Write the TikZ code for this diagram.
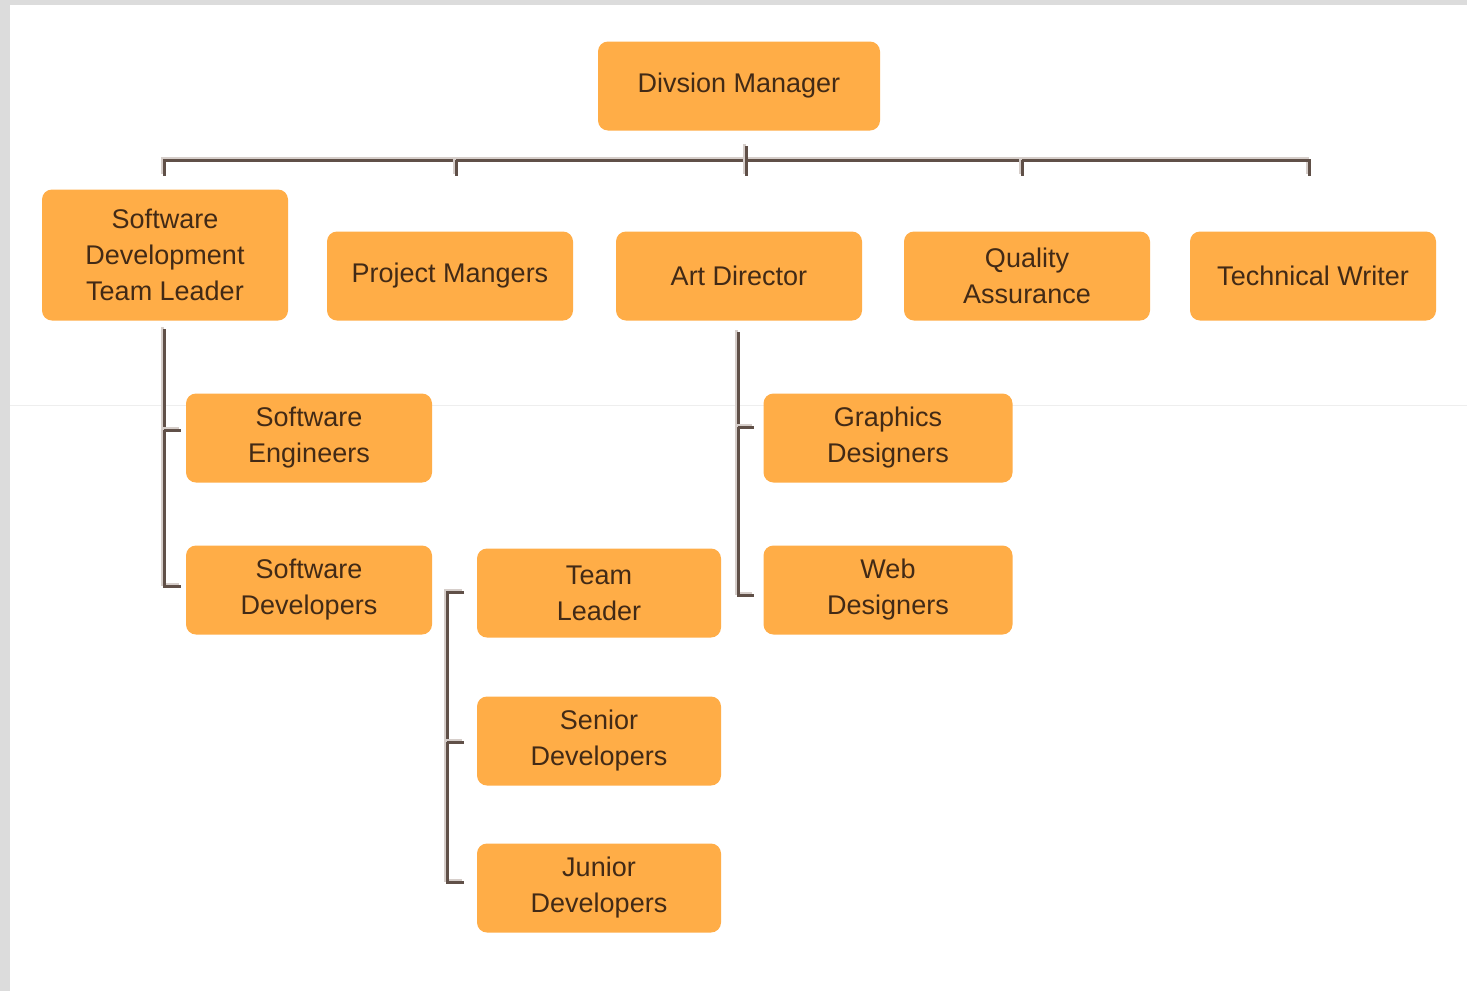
\documentclass[tikz,border=0pt]{standalone}
\usepackage{fontspec}
\setmainfont{Liberation Sans}
\usetikzlibrary{calc}

\definecolor{boxfill}{RGB}{255,173,71}
\definecolor{ink}{RGB}{66,42,22}
\definecolor{wirecol}{RGB}{96,80,72}
\definecolor{wireshade}{RGB}{214,206,202}
\definecolor{framecol}{RGB}{220,220,220}
\definecolor{seam}{RGB}{238,238,238}

% a connector: light shade offset up-left, dark line on top
\newcommand\linkpath[1]{%
  \draw[wireshade, line width=1.5pt, transform canvas={shift={(-1pt,1pt)}}] #1;
  \draw[wirecol, line width=1.5pt] #1;}

\begin{document}
\begin{tikzpicture}[x=0.5pt,y=-0.5pt,
  unit/.style={fill=boxfill, rounded corners=5pt, text=ink, align=center,
    font=\fontsize{13.5}{18}\selectfont, inner sep=0pt,
    minimum width=123pt, minimum height=44.5pt},
]
\useasboundingbox (0,0) rectangle (1467,991);
% page frame
\fill[framecol] (0,0) rectangle (1467,991);
\fill[white] (10,5) rectangle (1467,991);
\draw[seam, line width=0.5pt] (10,405) -- (1467,405);

% boxes
\node[unit, minimum width=141pt] (dm) at (739,86) {Divsion Manager};
\node[unit, minimum height=65.5pt] (sdtl) at (165,255) {Software\\Development\\Team Leader};
\node[unit] (pm) at (450,276) {Project Mangers};
\node[unit] (ad) at (739,276) {Art Director};
\node[unit] (qa) at (1027,276) {Quality\\Assurance};
\node[unit] (tw) at (1313,276) {Technical Writer};

\node[unit] (se) at (309,438) {Software\\Engineers};
\node[unit] (sd) at (309,590) {Software\\Developers};

\node[unit, minimum width=122pt] (tl) at (599,593) {Team\\Leader};
\node[unit, minimum width=122pt] (sr) at (599,741) {Senior\\Developers};
\node[unit, minimum width=122pt] (jr) at (599,888) {Junior\\Developers};

\node[unit, minimum width=124.5pt] (gd) at (888,438) {Graphics\\Designers};
\node[unit, minimum width=124.5pt] (wd) at (888,590) {Web\\Designers};

% top bus
\coordinate (busL) at (164,160);
\coordinate (busR) at (1309,160);
\coordinate (busTop) at (746,146);
\coordinate (tick1) at (164,176);
\coordinate (tick2) at (456,176);
\coordinate (tick3) at (746,176);
\coordinate (tick4) at (1022,176);
\coordinate (tick5) at (1309,176);
\linkpath{(tick1) -- (busL) -- (busR) -- (tick5)}
\linkpath{(busTop) -- (tick3)}
\linkpath{(tick2 |- busL) -- (tick2)}
\linkpath{(tick4 |- busL) -- (tick4)}

% software development branch
\coordinate (lbTop) at (164,329);
\coordinate (lbMid) at (181,430);
\coordinate (lbEnd) at (181,586);
\linkpath{(lbTop) |- (lbEnd)}
\linkpath{(lbTop |- lbMid) -- (lbMid)}

% developers branch
\coordinate (mbTop) at (464,592);
\coordinate (mbMid) at (464,742);
\coordinate (mbEnd) at (464,882);
\linkpath{(mbTop) -| (447,882) -- (mbEnd)}
\linkpath{(447,742) -- (mbMid)}

% art branch
\coordinate (abTop) at (738,332);
\coordinate (abMid) at (754,427);
\coordinate (abEnd) at (754,595);
\linkpath{(abTop) |- (abEnd)}
\linkpath{(abTop |- abMid) -- (abMid)}
\end{tikzpicture}
\end{document}
